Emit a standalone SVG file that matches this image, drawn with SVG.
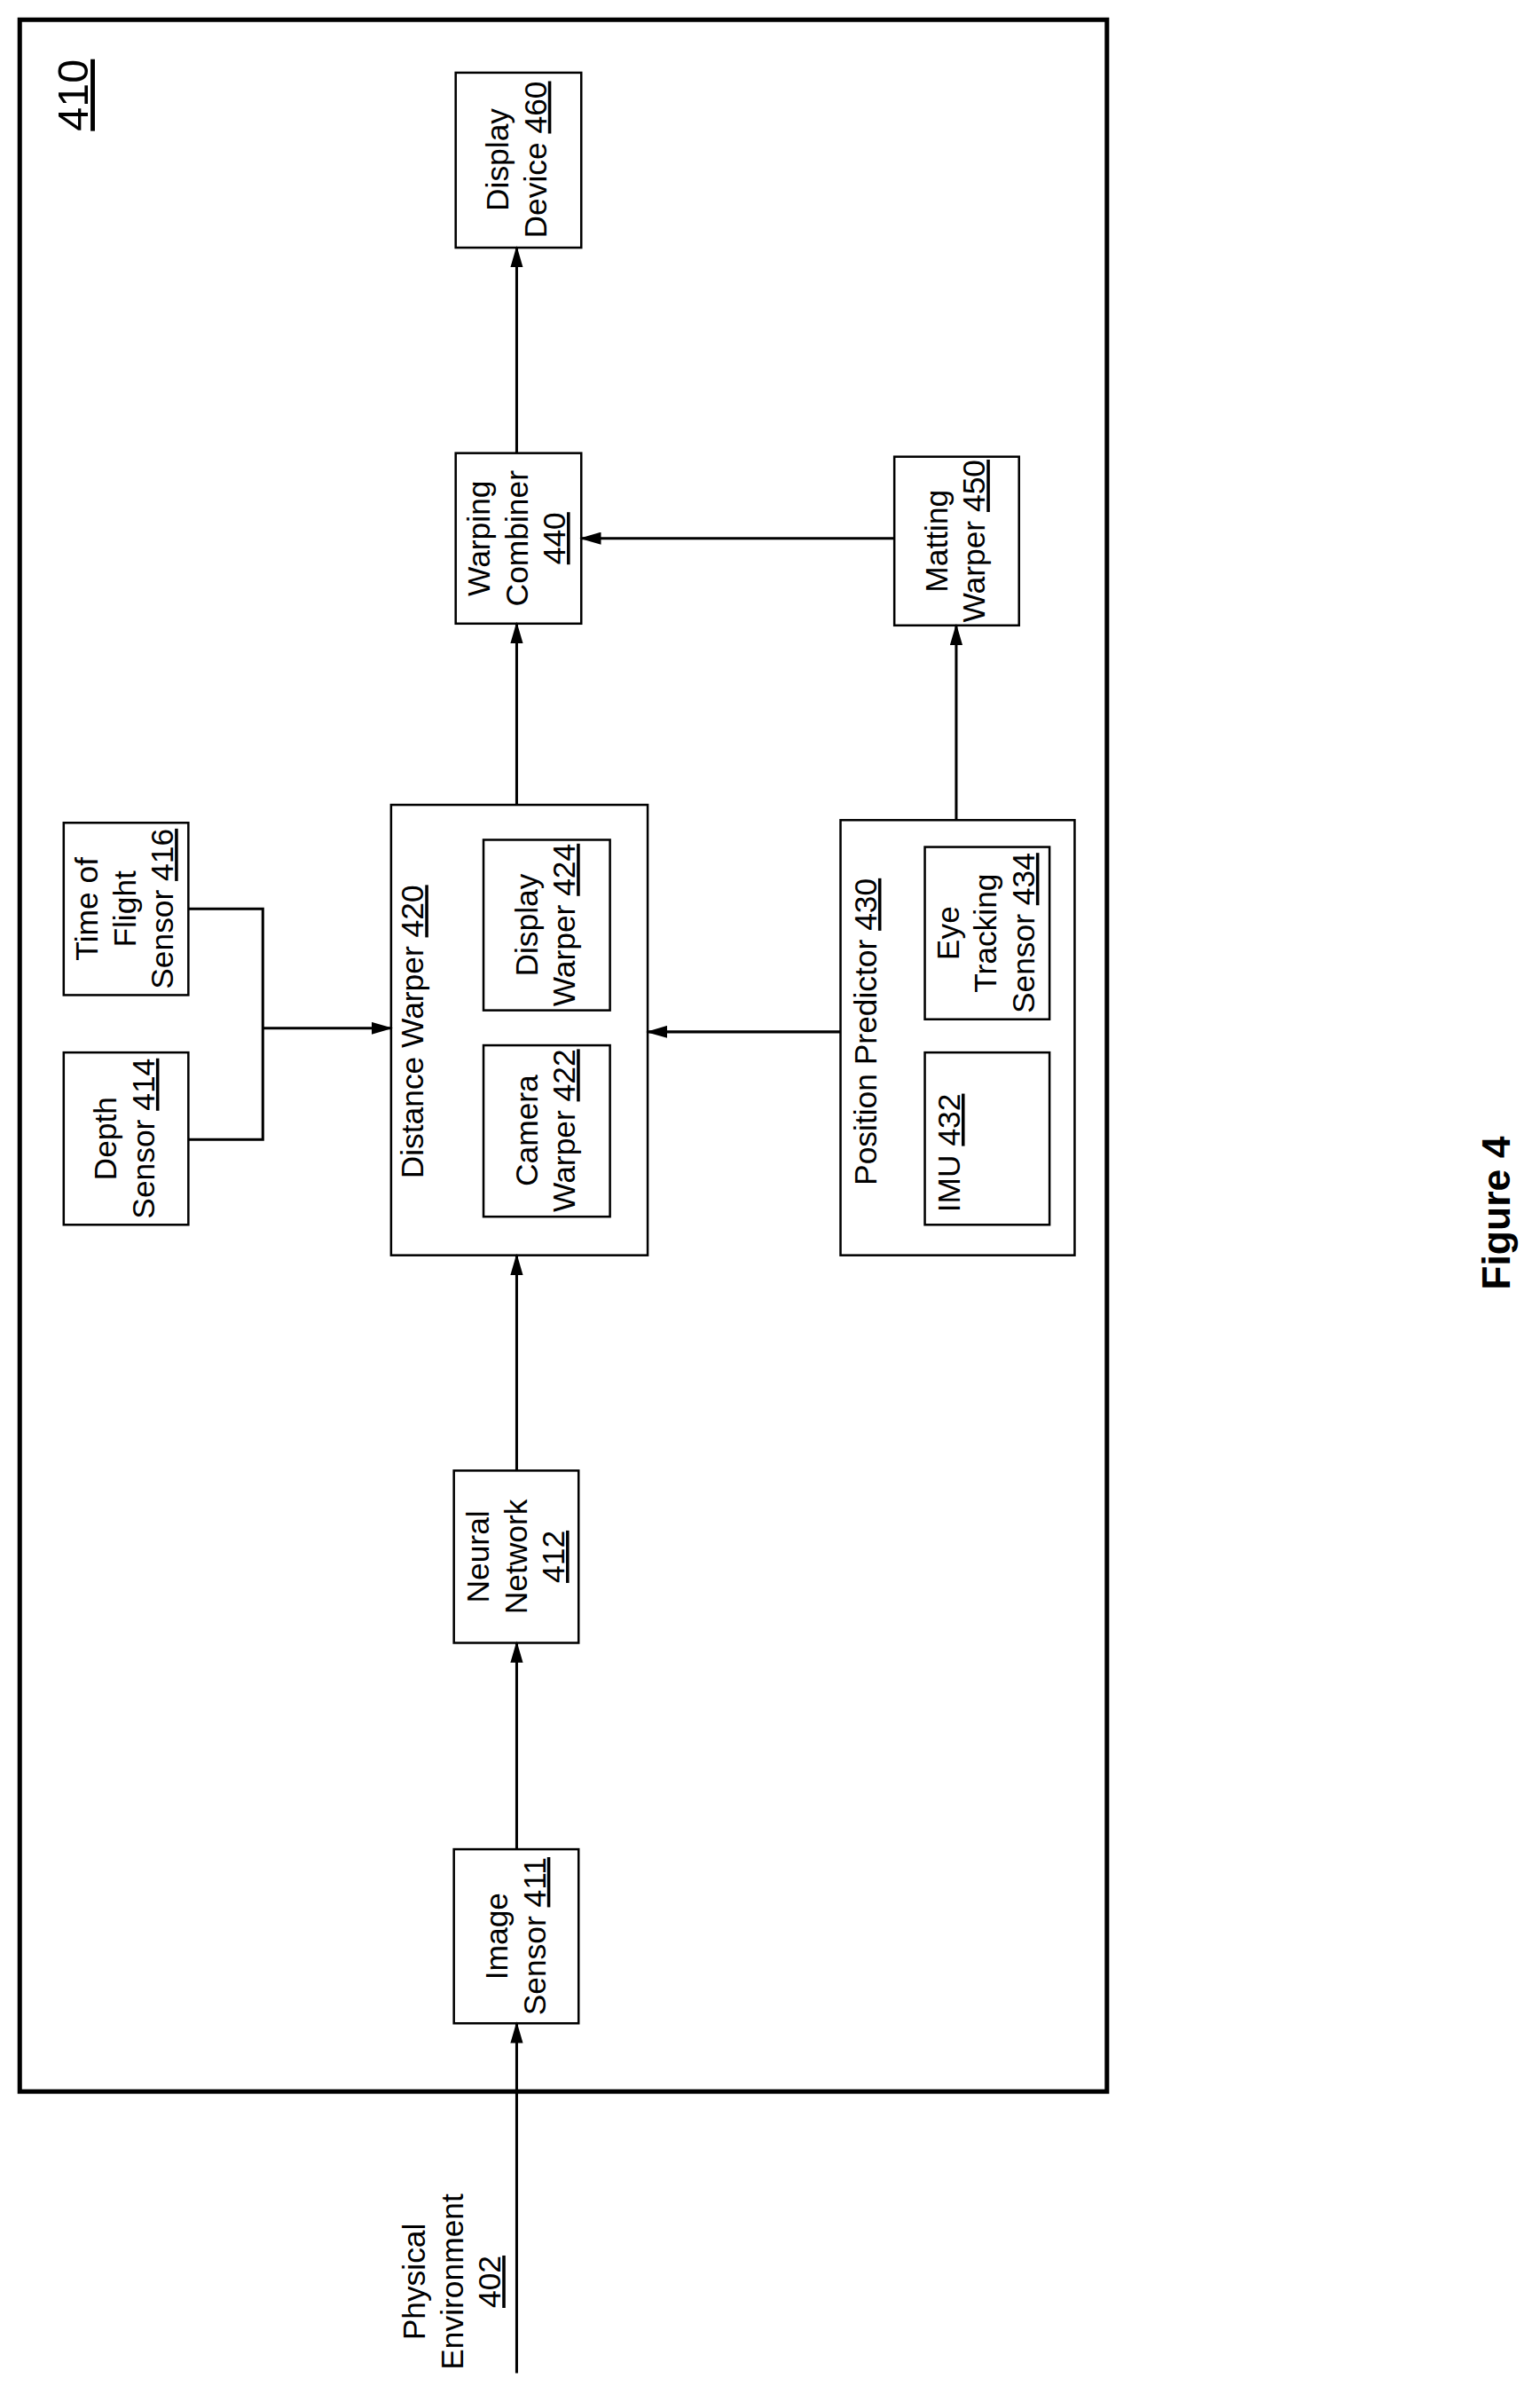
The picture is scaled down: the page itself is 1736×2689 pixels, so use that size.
<svg xmlns="http://www.w3.org/2000/svg" width="1736" height="2689" viewBox="0 0 1736 2689">
<style>
text{font-family:"Liberation Sans",Arial,sans-serif;font-size:35px;fill:#000;text-anchor:middle}
.b{fill:#fff;stroke:#000;stroke-width:2.5}
.c{fill:none;stroke:#000;stroke-width:3}
.u{text-decoration:underline}
</style>
<defs><marker id="a" markerWidth="24" markerHeight="14" refX="22" refY="7" orient="auto" markerUnits="userSpaceOnUse"><path d="M0,0 L24,7 L0,14 Z" fill="#000"/></marker></defs>
<g transform="scale(1.0112)">
<rect x="22" y="22" width="1212" height="2309" fill="none" stroke="#000" stroke-width="5"/>
<g transform="translate(98,106) rotate(-90)"><text class="u" style="font-size:48px">410</text></g>
<g id="n460"><rect class="b" x="508" y="81" width="140" height="195"/><g transform="translate(577,178) rotate(-90)"><text><tspan x="0" y="-10">Display</tspan><tspan x="0" y="32">Device <tspan class="u">460</tspan></tspan></text></g></g>
<g id="n440"><rect class="b" x="508" y="505" width="140" height="190"/><g transform="translate(577,600) rotate(-90)"><text><tspan x="0" y="-31">Warping</tspan><tspan x="0" y="11">Combiner</tspan><tspan x="0" y="53" class="u">440</tspan></text></g></g>
<g id="n450"><rect class="b" x="997" y="509" width="139" height="188"/><g transform="translate(1066,603) rotate(-90)"><text><tspan x="0" y="-10">Matting</tspan><tspan x="0" y="32">Warper <tspan class="u">450</tspan></tspan></text></g></g>
<g id="n416"><rect class="b" x="71" y="917" width="139" height="192"/><g transform="translate(140,1013) rotate(-90)"><text><tspan x="0" y="-31">Time of</tspan><tspan x="0" y="11">Flight</tspan><tspan x="0" y="53">Sensor <tspan class="u">416</tspan></tspan></text></g></g>
<g id="n414"><rect class="b" x="71" y="1173" width="139" height="192"/><g transform="translate(140,1269) rotate(-90)"><text><tspan x="0" y="-10">Depth</tspan><tspan x="0" y="32">Sensor <tspan class="u">414</tspan></tspan></text></g></g>
<g id="n420"><rect class="b" x="436" y="897" width="286" height="502"/><g transform="translate(472,1150) rotate(-90)"><text>Distance Warper <tspan class="u">420</tspan></text></g>
<g id="n424"><rect class="b" x="539" y="936" width="141" height="190"/><g transform="translate(609,1031) rotate(-90)"><text><tspan x="0" y="-10">Display</tspan><tspan x="0" y="32">Warper <tspan class="u">424</tspan></tspan></text></g></g>
<g id="n422"><rect class="b" x="539" y="1165" width="141" height="191"/><g transform="translate(609,1260) rotate(-90)"><text><tspan x="0" y="-10">Camera</tspan><tspan x="0" y="32">Warper <tspan class="u">422</tspan></tspan></text></g></g></g>
<g id="n430"><rect class="b" x="937" y="914" width="261" height="485"/><g transform="translate(977,1150) rotate(-90)"><text>Position Predictor <tspan class="u">430</tspan></text></g>
<g id="n434"><rect class="b" x="1031" y="944" width="139" height="192"/><g transform="translate(1100,1040) rotate(-90)"><text><tspan x="0" y="-31">Eye</tspan><tspan x="0" y="11">Tracking</tspan><tspan x="0" y="53">Sensor <tspan class="u">434</tspan></tspan></text></g></g>
<g id="n432"><rect class="b" x="1031" y="1173" width="139" height="192"/><g transform="translate(1070,1285) rotate(-90)"><text>IMU <tspan class="u">432</tspan></text></g></g></g>
<g id="n412"><rect class="b" x="506" y="1639" width="139" height="192"/><g transform="translate(576,1735) rotate(-90)"><text><tspan x="0" y="-31">Neural</tspan><tspan x="0" y="11">Network</tspan><tspan x="0" y="53" class="u">412</tspan></text></g></g>
<g id="n411"><rect class="b" x="506" y="2061" width="139" height="194"/><g transform="translate(576,2158) rotate(-90)"><text><tspan x="0" y="-10">Image</tspan><tspan x="0" y="32">Sensor <tspan class="u">411</tspan></tspan></text></g></g>
<g id="n402"><g transform="translate(505,2543) rotate(-90)"><text><tspan x="0" y="-31">Physical</tspan><tspan x="0" y="11">Environment</tspan><tspan x="0" y="53" class="u">402</tspan></text></g></g>
<g transform="translate(1683,1352) rotate(-90)"><text style="font-size:44px;font-weight:bold">Figure 4</text></g>
<g id="connectors">
<path class="c" marker-end="url(#a)" d="M576,2645 V2255"/>
<path class="c" marker-end="url(#a)" d="M576,2061 V1831"/>
<path class="c" marker-end="url(#a)" d="M576,1639 V1399"/>
<path class="c" marker-end="url(#a)" d="M576,897 V695"/>
<path class="c" marker-end="url(#a)" d="M576,505 V276"/>
<path class="c" marker-end="url(#a)" d="M937,1150 H722"/>
<path class="c" marker-end="url(#a)" d="M1066,914 V697"/>
<path class="c" marker-end="url(#a)" d="M997,600 H648"/>
<path class="c" d="M210,1013 H293 V1270 H210"/>
<path class="c" marker-end="url(#a)" d="M293,1146 H436"/>
</g>
</g>
</svg>
